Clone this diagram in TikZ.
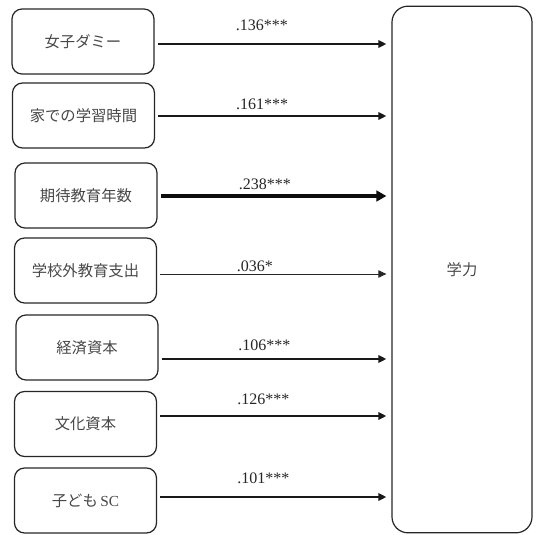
\documentclass[tikz,border=0pt]{standalone}
\usepackage{fontspec}
\setmainfont{Liberation Serif}
\newfontfamily\jpfont{Noto Sans CJK JP}
\usetikzlibrary{arrows.meta,calc}

\begin{document}
\begin{tikzpicture}[x=0.75pt,y=-0.75pt,
    varbox/.style={draw=black!85,line width=0.9pt,rounded corners=7.5pt,
        minimum width=106.5pt,minimum height=48.75pt,
        font=\jpfont\fontsize{11.5}{13}\selectfont,text=black!72},
    outbox/.style={draw=black!85,line width=0.9pt,rounded corners=12pt,
        minimum width=105pt,minimum height=395pt,
        font=\jpfont\fontsize{11.5}{13}\selectfont,text=black!72},
    arr/.style={draw=black!90,line width=1.5pt,-{Triangle[length=6pt,width=5.5pt]}},
    arrthick/.style={draw=black!95,line width=3.2pt,-{Triangle[length=7.5pt,width=8pt]}},
    arrthin/.style={draw=black!85,line width=0.7pt,-{Triangle[length=6pt,width=5.5pt]}},
    coef/.style={font=\fontsize{12}{14}\selectfont,text=black!85,inner sep=0pt,anchor=south west}]
    \useasboundingbox (0,0) rectangle (537,535);
    % explanatory variables
    \node[varbox] (joshi) at (83,41.5) {女子ダミー};
    \node[varbox] (gakushu) at (83.5,115.5) {家での学習時間};
    \node[varbox] (kitai) at (86,195.5) {期待教育年数};
    \node[varbox] (gakkogai) at (85.5,270.5) {学校外教育支出};
    \node[varbox] (keizai) at (87,347.5) {経済資本};
    \node[varbox] (bunka) at (85.5,424) {文化資本};
    \node[varbox] (kodomo) at (85.5,500.5) {子ども\,{\rmfamily SC}};
    % outcome
    \node[outbox] (gakuryoku) at (462,269.5) {学力};
    % paths
    \foreach \src/\dy/\lbl/\sty/\up in {
        joshi/2.5/.136***/arr/12,
        gakushu/0.5/.161***/arr/5,
        kitai/0.5/.238***/arrthick/4,
        gakkogai/3.5/.036*/arrthin/2,
        keizai/11.5/.106***/arr/7,
        bunka/-8/.126***/arr/10,
        kodomo/-3.5/.101***/arr/12}
    {
        \coordinate (s) at ($(\src.east)+(3,\dy)$);
        \draw[\sty,shorten >=3.75pt] (s) -- (s -| gakuryoku.west)
            node[coef,pos=0.33,yshift=0.75pt*\up] {\lbl};
    }
\end{tikzpicture}
\end{document}
